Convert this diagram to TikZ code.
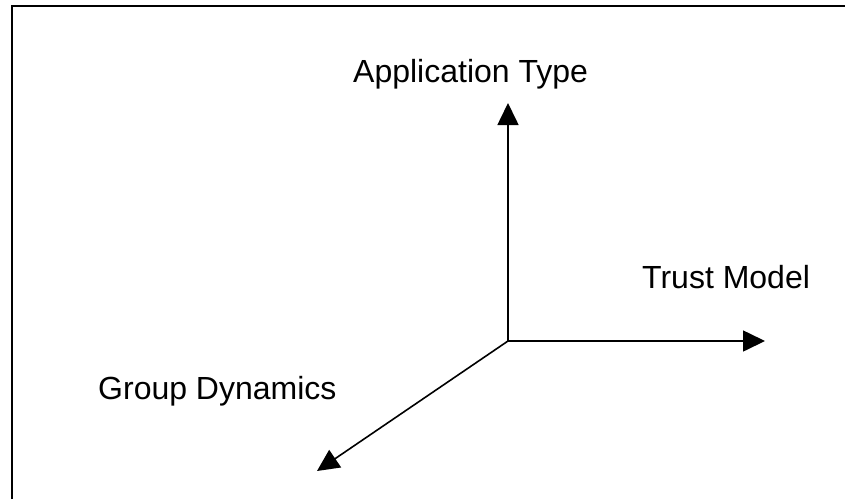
\documentclass[tikz,border=0pt]{standalone}
\usepackage{fontspec}
\setmainfont{Liberation Sans}
\usetikzlibrary{arrows.meta}
\begin{document}
\begin{tikzpicture}[x=1pt,y=-1pt,
  axis/.style={line width=1.6pt,-{Triangle[length=22pt,width=21pt]}},
  frameline/.style={line width=1.6pt},
  axislabel/.style={inner sep=0pt,anchor=base west,font=\fontsize{32}{38}\selectfont}]
  \useasboundingbox (0,0) rectangle (845,499);
  % frame
  \draw[frameline] (12,499) -- (12,6) -- (845,6);
  % axes
  \coordinate (O) at (508,341);
  \coordinate (up) at (508,103);
  \coordinate (right) at (765,341);
  \coordinate (down) at (317,471);
  \draw[axis] (O) -- (up);
  \draw[axis] (O) -- (right);
  \draw[axis] (O) -- (down);
  % labels
  \node[axislabel] (app) at (353,82) {Application Type};
  \node[axislabel] (trust) at (642,288) {Trust Model};
  \node[axislabel] (group) at (98,399) {Group Dynamics};
\end{tikzpicture}
\end{document}
